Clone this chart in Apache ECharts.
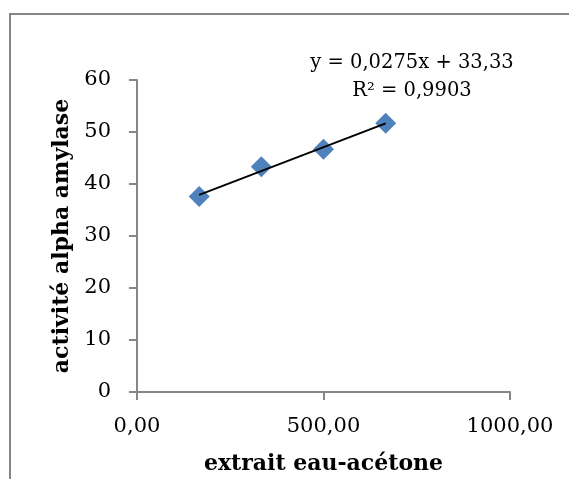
<!DOCTYPE html>
<html><head><meta charset="utf-8">
<script src="https://cdn.jsdelivr.net/npm/echarts@6/dist/echarts.min.js"></script>
<style>html,body{margin:0;padding:0;background:#fff;overflow:hidden}#c{width:569px;height:479px}</style>
</head><body><div id="c"></div>
<script>
const xValues = [166.67, 333.33, 500.0, 666.67];
const yValues = [37.6, 43.3, 46.7, 51.7];
const trendSlope = 0.0275;
const trendIntercept = 33.33;
const trendX = [166.67, 666.67];
const equationText = 'y = 0,0275x + 33,33';
const r2Text = 'R² = 0,9903';
const xTitle = 'extrait eau-acétone';
const yTitle = 'activité alpha amylase';

const font = 'DejaVu Serif';
const chart = echarts.init(document.getElementById('c'), null, {renderer: 'canvas'});
const fmt = v => v.toFixed(2).replace('.', ',');
chart.setOption({
  animation: false,
  backgroundColor: '#fff',
  grid: {left: 137, right: 59, top: 80, bottom: 87, containLabel: false, outerBoundsMode: 'none'},
  xAxis: {
    type: 'value', min: 0, max: 1000, interval: 500,
    name: xTitle, nameLocation: 'middle', nameGap: 61,
    nameTextStyle: {fontFamily: font, fontWeight: 'bold', fontSize: 22, color: '#000'},
    axisLine: {show: true, onZero: false, lineStyle: {color: '#868686', width: 2}},
    axisTick: {show: true, inside: false, length: 8, lineStyle: {color: '#868686', width: 2}},
    axisLabel: {fontFamily: font, fontSize: 21, color: '#000', margin: 24, formatter: fmt},
    splitLine: {show: false}
  },
  yAxis: {
    type: 'value', min: 0, max: 60, interval: 10,
    name: yTitle, nameLocation: 'middle', nameGap: 64, nameRotate: 90,
    nameTextStyle: {fontFamily: font, fontWeight: 'bold', fontSize: 22, color: '#000'},
    axisLine: {show: true, onZero: false, lineStyle: {color: '#868686', width: 2}},
    axisTick: {show: true, inside: false, length: 8, lineStyle: {color: '#868686', width: 2}},
    axisLabel: {fontFamily: font, fontSize: 21, color: '#000', margin: 26},
    splitLine: {show: false}
  },
  series: [
    {
      type: 'line',
      data: trendX.map(x => [x, trendSlope * x + trendIntercept]),
      symbol: 'none',
      lineStyle: {color: '#000', width: 2},
      z: 3
    },
    {
      type: 'scatter',
      data: xValues.map((x, i) => [x, yValues[i]]),
      symbol: 'diamond', symbolSize: [21, 21],
      itemStyle: {color: '#4F81BD', opacity: 1},
      z: 2
    }
  ],
  graphic: [
    {type: 'line', shape: {x1: 9, y1: 14, x2: 569, y2: 14}, style: {stroke: '#868686', lineWidth: 2}, silent: true, z: -1},
    {type: 'line', shape: {x1: 10, y1: 13, x2: 10, y2: 479}, style: {stroke: '#868686', lineWidth: 2}, silent: true, z: -1},
    {type: 'text', x: 412, y: 63, style: {text: equationText, font: '19.5px "DejaVu Serif"', fill: '#000', textAlign: 'center', textVerticalAlign: 'middle'}},
    {type: 'text', x: 412, y: 91, style: {text: r2Text, font: '19.5px "DejaVu Serif"', fill: '#000', textAlign: 'center', textVerticalAlign: 'middle'}}
  ]
});
</script></body></html>
